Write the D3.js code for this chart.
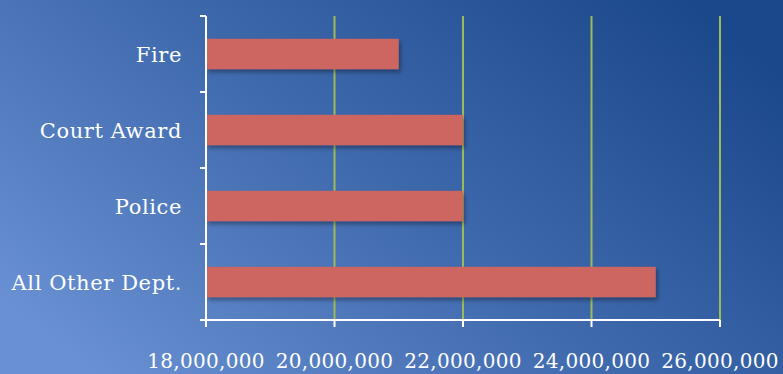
<!DOCTYPE html>
<html>
<head>
<meta charset="utf-8">
<script src="https://cdn.jsdelivr.net/npm/d3@7"></script>
<style>
  html, body { margin: 0; padding: 0; }
  svg { display: block; }
</style>
</head>
<body>
<svg width="783" height="374"></svg>
<script>
var categories = ["Fire", "Court Award", "Police", "All Other Dept."];
var values = [21000000, 22000000, 22000000, 25000000];
var tickValues = [18000000, 20000000, 22000000, 24000000, 26000000];

var serif = "'DejaVu Serif', serif";

var svg = d3.select("svg");
var defs = svg.append("defs");

// Background gradient, light blue on the left to dark blue on the right.
var grad = defs.append("linearGradient")
    .attr("id", "bg")
    .attr("x1", "0%").attr("y1", "80%")
    .attr("x2", "100%").attr("y2", "20%");
grad.append("stop").attr("offset", "0%").attr("stop-color", "#6890d2");
grad.append("stop").attr("offset", "50%").attr("stop-color", "#3f69ad");
grad.append("stop").attr("offset", "100%").attr("stop-color", "#1b488a");

var shadow = defs.append("filter").attr("id", "shadow")
    .attr("x", "-10%").attr("y", "-30%").attr("width", "130%").attr("height", "180%");
shadow.append("feDropShadow")
    .attr("dx", 2).attr("dy", 3).attr("stdDeviation", 2)
    .attr("flood-color", "#000").attr("flood-opacity", 0.35);

svg.append("rect").attr("width", 783).attr("height", 374).attr("fill", "url(#bg)");

// plot area edges (note: "top" is reserved on window, so prefixed names)
var plotLeft = 206, plotRight = 720, plotTop = 16, plotBottom = 320;

var x = d3.scaleLinear().domain([18000000, 26000000]).range([plotLeft, plotRight]);
var y = d3.scaleBand().domain(categories).range([plotTop, plotBottom]).paddingInner(0.6).paddingOuter(0.3);
var yTicks = d3.range(categories.length + 1).map(function (i) {
    return plotTop + i * (plotBottom - plotTop) / categories.length;
});

var g = svg.append("g");

// Vertical gridlines.
g.selectAll("line.grid")
    .data(tickValues.slice(1))
    .enter().append("line")
    .attr("class", "grid")
    .attr("x1", function (d) { return x(d); })
    .attr("x2", function (d) { return x(d); })
    .attr("y1", plotTop)
    .attr("y2", plotBottom)
    .attr("stroke", "#9bbb59")
    .attr("stroke-width", 2);

// Bars.
g.selectAll("rect.bar")
    .data(values)
    .enter().append("rect")
    .attr("class", "bar")
    .attr("x", x(18000000))
    .attr("y", function (d, i) { return y(categories[i]); })
    .attr("width", function (d) { return x(d) - x(18000000); })
    .attr("height", y.bandwidth())
    .attr("fill", "#cd6661")
    .attr("filter", "url(#shadow)");

// Y axis line and boundary ticks.
g.append("line")
    .attr("x1", plotLeft).attr("x2", plotLeft)
    .attr("y1", plotTop).attr("y2", plotBottom)
    .attr("stroke", "#fff").attr("stroke-width", 2);
g.selectAll("line.ytick")
    .data(yTicks)
    .enter().append("line")
    .attr("class", "ytick")
    .attr("x1", plotLeft - 6).attr("x2", plotLeft)
    .attr("y1", function (d) { return d; })
    .attr("y2", function (d) { return d; })
    .attr("stroke", "#fff").attr("stroke-width", 2);

// X axis.
g.append("line")
    .attr("x1", plotLeft).attr("x2", plotRight)
    .attr("y1", plotBottom).attr("y2", plotBottom)
    .attr("stroke", "#fff").attr("stroke-width", 2);
g.selectAll("line.xtick")
    .data(tickValues)
    .enter().append("line")
    .attr("class", "xtick")
    .attr("x1", function (d) { return x(d); })
    .attr("x2", function (d) { return x(d); })
    .attr("y1", plotBottom).attr("y2", plotBottom + 7)
    .attr("stroke", "#fff").attr("stroke-width", 2);

var fmt = d3.format(",");
g.selectAll("text.xlabel")
    .data(tickValues)
    .enter().append("text")
    .attr("class", "xlabel")
    .attr("x", function (d) { return x(d); })
    .attr("y", 368)
    .attr("text-anchor", "middle")
    .attr("fill", "#fff")
    .attr("font-family", serif)
    .attr("font-size", 20)
    .attr("letter-spacing", 0.3)
    .text(function (d) { return fmt(d); });

g.selectAll("text.ylabel")
    .data(categories)
    .enter().append("text")
    .attr("class", "ylabel")
    .attr("x", 182)
    .attr("y", function (d) { return y(d) + y.bandwidth() / 2 + 8; })
    .attr("text-anchor", "end")
    .attr("fill", "#fff")
    .attr("font-family", serif)
    .attr("font-size", 21)
    .attr("letter-spacing", 0.6)
    .text(function (d) { return d; });
</script>
</body>
</html>
